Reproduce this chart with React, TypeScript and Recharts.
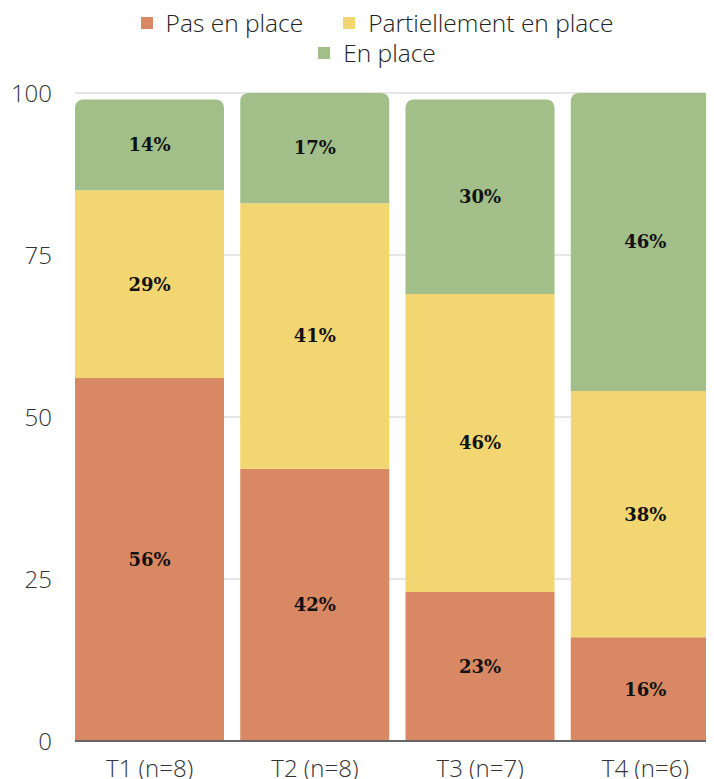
import { BarChart, Bar, XAxis, YAxis, CartesianGrid, Legend, LabelList } from 'recharts';

const categories = ['T1 (n=8)', 'T2 (n=8)', 'T3 (n=7)', 'T4 (n=6)'];
const pasEnPlace = [56, 42, 23, 16];
const partiellement = [29, 41, 46, 38];
const enPlace = [14, 17, 30, 46];
const yTicks = [0, 25, 50, 75, 100];

const SERIES = [
  { key: 'pas', name: 'Pas en place', color: '#D88862' },
  { key: 'partiel', name: 'Partiellement en place', color: '#F2D672' },
  { key: 'enplace', name: 'En place', color: '#A2BF89' },
];

const FONT = '"Open Sans", sans-serif';

const data = categories.map((cat, i) => ({
  cat,
  pas: pasEnPlace[i],
  partiel: partiellement[i],
  enplace: enPlace[i],
}));

const fmt = (v: any) => `${v}%`;

function LegendBox() {
  const item = (s: (typeof SERIES)[number]) => (
    <span key={s.key} style={{ display: 'inline-flex', alignItems: 'center', margin: '0 20px', height: 30 }}>
      <span style={{ width: 12, height: 12, background: s.color, marginRight: 13, display: 'inline-block' }} />
      {s.name}
    </span>
  );
  const row = { height: 30, display: 'flex', justifyContent: 'center' } as const;
  return (
    <div style={{ fontFamily: FONT, fontWeight: 300, fontSize: 24.5, color: '#222', lineHeight: '30px', paddingLeft: 18, height: 60 }}>
      <div style={row}>{item(SERIES[0])}{item(SERIES[1])}</div>
      <div style={row}>{item(SERIES[2])}</div>
    </div>
  );
}

const labelStyle = { fontFamily: '"DejaVu Serif", serif', fontWeight: 700, fontSize: 18, fill: '#111' };
const tickStyle = { fontFamily: FONT, fontWeight: 300, fontSize: 24, fill: '#333' };

export default function App() {
  return (
    <BarChart
      width={720}
      height={780}
      data={data}
      margin={{ top: 25, right: 0, bottom: 7, left: 0 }}
    >
      <CartesianGrid vertical={false} stroke="#cccccc" />
      <Legend verticalAlign="top" height={60} content={<LegendBox />} wrapperStyle={{ top: 0 }} />
      <XAxis
        dataKey="cat"
        padding={{ left: -8, right: 0 }}
        tickLine={false}
        axisLine={{ stroke: '#666', strokeWidth: 2 }}
        tickMargin={13}
        height={40}
        tick={tickStyle}
        interval={0}
      />
      <YAxis
        domain={[0, 100]}
        ticks={yTicks}
        width={67}
        axisLine={false}
        tickLine={false}
        tickMargin={17}
        tick={tickStyle}
      />
      <Bar dataKey="pas" name={SERIES[0].name} stackId="a" fill={SERIES[0].color} barSize={149} isAnimationActive={false}>
        <LabelList dataKey="pas" position="center" formatter={fmt} style={labelStyle} />
      </Bar>
      <Bar dataKey="partiel" name={SERIES[1].name} stackId="a" fill={SERIES[1].color} barSize={149} isAnimationActive={false}>
        <LabelList dataKey="partiel" position="center" formatter={fmt} style={labelStyle} />
      </Bar>
      <Bar dataKey="enplace" name={SERIES[2].name} stackId="a" fill={SERIES[2].color} barSize={149} radius={[8, 8, 0, 0]} isAnimationActive={false}>
        <LabelList dataKey="enplace" position="center" formatter={fmt} style={labelStyle} />
      </Bar>
    </BarChart>
  );
}
